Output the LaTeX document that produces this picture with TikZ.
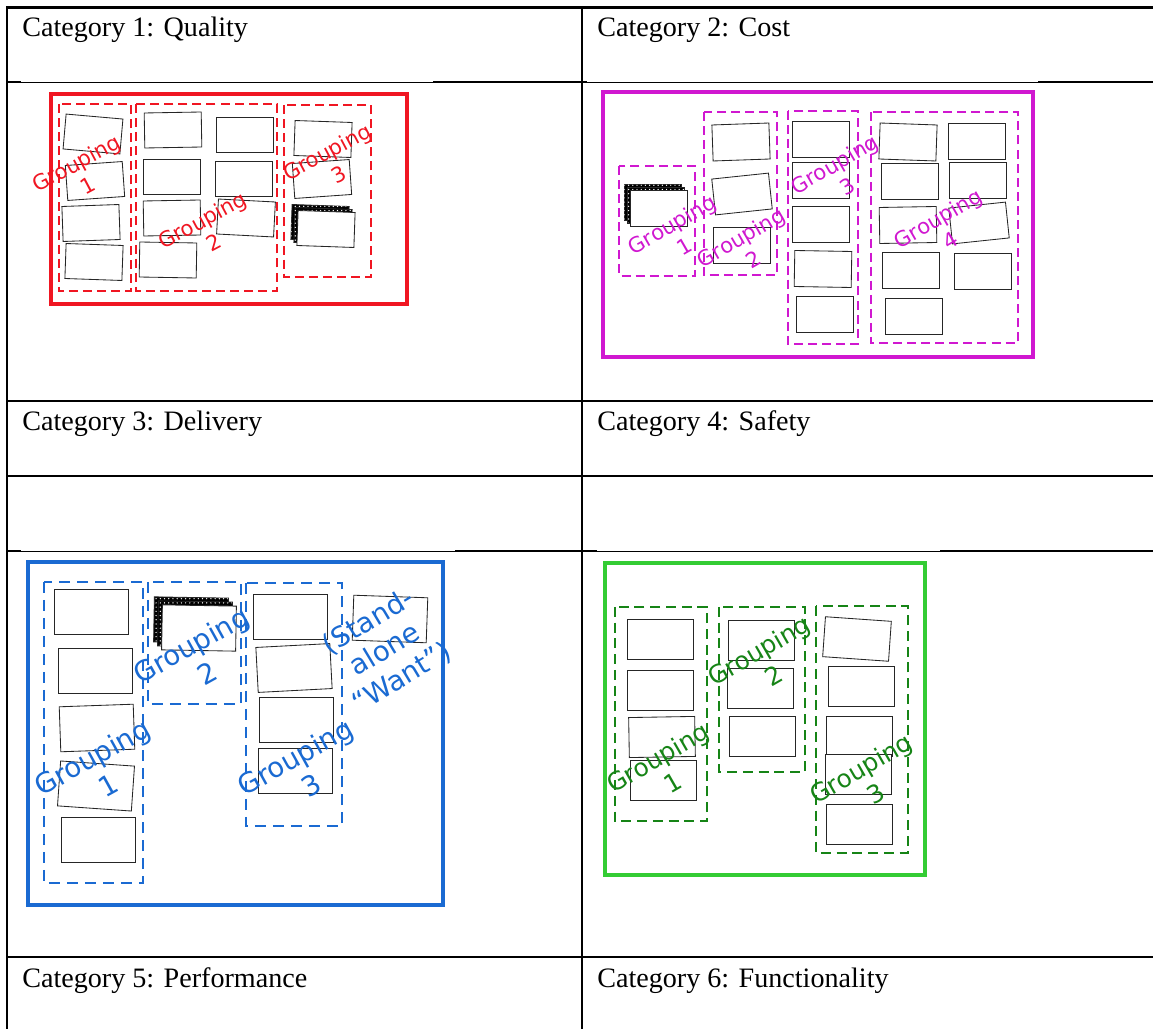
\documentclass[tikz,border=0pt]{standalone}
\usepackage{fontspec}
\setmainfont{Liberation Serif}
\newfontfamily\groupfont{DejaVu Sans}
\usetikzlibrary{patterns}
\definecolor{qualred}{RGB}{240,22,34}
\definecolor{costmag}{RGB}{208,24,208}
\definecolor{perfblue}{RGB}{26,106,210}
\definecolor{funclime}{RGB}{52,204,52}
\definecolor{funcgreen}{RGB}{22,132,22}
\newcommand{\px}{0.025cm}
% pile of cards: #1 name, #2 centre, #3 card style, #4 step back
\newcommand{\tikzCardStack}[4]{
  \path (#2) ++(-2*#4,-2*#4) node[#3,stackcard] (#1c) {};
  \path (#2) ++(-#4,-#4) node[#3,stackcard] (#1b) {};
  \node[#3] (#1) at (#2) {};
}

\begin{document}
\begin{tikzpicture}[x=\px, y=-\px,
  tbl/.style={line width=1.8pt},
  tblthin/.style={line width=0.6pt},
  cat/.style={anchor=base west, inner sep=0pt, font=\fontsize{20}{24}\selectfont},
  card/.style={draw=black!85, line width=0.6pt, fill=white, inner sep=0pt},
  stackcard/.style={fill=black, postaction={pattern=dots, pattern color=white}},
  qcard/.style={card, minimum width=1.425cm, minimum height=0.875cm},
  ccard/.style={card, minimum width=1.425cm, minimum height=0.9cm},
  pcard/.style={card, minimum width=1.85cm, minimum height=1.125cm},
  fcard/.style={card, minimum width=1.65cm, minimum height=1.0cm},
  glabel/.style={align=center, inner sep=0pt},
  qualbox/.style={draw=qualred, line width=2.4pt},
  qualgroup/.style={draw=qualred, line width=1.4pt, dash pattern=on 6.4pt off 3.6pt},
  qualtext/.style={glabel, text=qualred, font=\groupfont\fontsize{15}{18}\selectfont},
  costbox/.style={draw=costmag, line width=2.2pt},
  costgroup/.style={draw=costmag, line width=1.4pt, dash pattern=on 6.4pt off 3.6pt},
  costtext/.style={glabel, text=costmag, font=\groupfont\fontsize{15}{18}\selectfont},
  perfbox/.style={draw=perfblue, line width=2.8pt},
  perfgroup/.style={draw=perfblue, line width=1.7pt, dash pattern=on 7.8pt off 5pt},
  perftext/.style={glabel, text=perfblue, font=\groupfont\fontsize{19.6}{23.2}\selectfont},
  funcbox/.style={draw=funclime, line width=2.5pt},
  funcgroup/.style={draw=funcgreen, line width=1.5pt, dash pattern=on 7pt off 4.2pt},
  functext/.style={glabel, text=funcgreen, font=\groupfont\fontsize{17.6}{21}\selectfont}]

  \useasboundingbox (0,0) rectangle (1153,1029);

  % table rules
  \draw[tbl] (7,7.5) -- (7,1029);
  \draw[tbl] (582,7.5) -- (582,1029);
  \draw[tbl] (6,7.5) -- (1153,7.5);
  \draw[tbl] (7,82) -- (21,82) (433,82) -- (587,82) (1038,82) -- (1153,82);
  \draw[tblthin] (21,82) -- (433,82) (587,82) -- (1038,82);
  \draw[tbl] (7,401) -- (1153,401);
  \draw[tbl] (7,476) -- (1153,476);
  \draw[tbl] (7,551) -- (21,551) (455,551) -- (597,551) (940,551) -- (1153,551);
  \draw[tblthin] (21,551) -- (455,551) (597,551) -- (940,551);
  \draw[tbl] (7,957) -- (1153,957);

  % headings
  \node[cat] (cat1) at (22,37) {Category 1: Quality};
  \node[cat] (cat2) at (597,37) {Category 2: Cost};
  \node[cat] (cat3) at (22,431) {Category 3: Delivery};
  \node[cat] (cat4) at (597,431) {Category 4: Safety};
  \node[cat] (cat5) at (22,987) {Category 5: Performance};
  \node[cat] (cat6) at (597,987) {Category 6: Functionality};

  % quality
  \draw[qualbox] (51,94) rectangle (407,304);
  \draw[qualgroup] (59,104) rectangle (131,291);
  \draw[qualgroup] (136,104) rectangle (277,291);
  \draw[qualgroup] (284,105) rectangle (371,277);
  \node[qcard, rotate=-5] (q1) at (93,134) {};
  \node[qcard, rotate=4] (q2) at (95,181) {};
  \node[qcard, rotate=2] (q3) at (91,223) {};
  \node[qcard, rotate=-2] (q4) at (94,262) {};
  \node[qcard, rotate=1] (q5) at (173,130) {};
  \node[qcard] (q6) at (245,135) {};
  \node[qcard] (q7) at (172,177) {};
  \node[qcard] (q8) at (244,179) {};
  \node[qcard, rotate=1] (q9) at (172,218) {};
  \node[qcard, rotate=-3] (q10) at (246,218) {};
  \node[qcard, rotate=-1] (q11) at (168,260) {};
  \node[qcard, rotate=-2] (q12) at (323,139) {};
  \node[qcard, rotate=4] (q13) at (322,179) {};
  \tikzCardStack{q14}{326,229}{qcard,rotate=-2}{3}
  \node[qualtext, rotate=28] (qlab1) at (82,174) {Grouping\\1};
  \node[qualtext, rotate=28] (qlab2) at (208,231) {Grouping\\2};
  \node[qualtext, rotate=28] (qlab3) at (333,163) {Grouping\\3};

  % cost
  \draw[costbox] (603,92) rectangle (1033,357);
  \draw[costgroup] (619,166) rectangle (695,276);
  \draw[costgroup] (704,112) rectangle (777,275);
  \draw[costgroup] (788,111) rectangle (858,344);
  \draw[costgroup] (871,112) rectangle (1018,343);
  \tikzCardStack{c1}{659,208}{ccard}{3}
  \node[ccard, rotate=2] (c2) at (741,142) {};
  \node[ccard, rotate=6] (c3) at (742,194) {};
  \node[ccard] (c4) at (742,245) {};
  \node[ccard] (c5) at (821,139) {};
  \node[ccard] (c6) at (821,180) {};
  \node[ccard] (c7) at (821,224) {};
  \node[ccard, rotate=-1] (c8) at (823,269) {};
  \node[ccard] (c9) at (825,314) {};
  \node[ccard, rotate=-2] (c10) at (908,142) {};
  \node[ccard] (c11) at (977,141) {};
  \node[ccard] (c12) at (910,181) {};
  \node[ccard] (c13) at (978,180) {};
  \node[ccard, rotate=1] (c14) at (908,225) {};
  \node[ccard, rotate=6] (c15) at (979,223) {};
  \node[ccard] (c16) at (911,270) {};
  \node[ccard] (c17) at (983,271) {};
  \node[ccard] (c18) at (914,316) {};
  \node[costtext, rotate=30] (clab1) at (678,235) {Grouping\\1};
  \node[costtext, rotate=30] (clab2) at (747,248) {Grouping\\2};
  \node[costtext, rotate=30] (clab3) at (841,175) {Grouping\\3};
  \node[costtext, rotate=30] (clab4) at (944,229) {Grouping\\4};

  % performance
  \draw[perfbox] (28,562) rectangle (443,905);
  \draw[perfgroup] (44,582) rectangle (143,883);
  \draw[perfgroup] (148,582) rectangle (241,704);
  \draw[perfgroup] (246,583) rectangle (342,826);
  \node[pcard] (p1) at (91,612) {};
  \node[pcard] (p2) at (95,671) {};
  \node[pcard, rotate=2] (p3) at (97,728) {};
  \node[pcard, rotate=-4] (p4) at (96,786) {};
  \node[pcard] (p5) at (98,840) {};
  \tikzCardStack{p6}{199,628}{pcard,rotate=-1}{4}
  \node[pcard] (p7) at (290,617) {};
  \node[pcard, rotate=3] (p8) at (294,668) {};
  \node[pcard] (p9) at (296,720) {};
  \node[pcard] (p10) at (295,771) {};
  \node[pcard, rotate=-2] (p11) at (390,619) {};
  \node[perftext, rotate=29] (plab1) at (100,771) {Grouping\\1};
  \node[perftext, rotate=29] (plab2) at (199,659) {Grouping\\2};
  \node[perftext, rotate=29] (plab3) at (303,771) {Grouping\\3};
  \node[perftext, rotate=31] (plab4) at (385,650) {(Stand-\\alone\\“Want”)};

  % functionality
  \draw[funcbox] (605,563) rectangle (925,875);
  \draw[funcgroup] (615,607) rectangle (707,821);
  \draw[funcgroup] (719,607) rectangle (805,772);
  \draw[funcgroup] (816,606) rectangle (908,853);
  \node[fcard] (f1) at (660,639) {};
  \node[fcard] (f2) at (660,690) {};
  \node[fcard, rotate=1] (f3) at (662,737) {};
  \node[fcard] (f4) at (663,780) {};
  \node[fcard] (f5) at (761,640) {};
  \node[fcard] (f6) at (760,688) {};
  \node[fcard] (f7) at (762,736) {};
  \node[fcard, rotate=-4] (f8) at (857,639) {};
  \node[fcard] (f9) at (861,686) {};
  \node[fcard] (f10) at (859,736) {};
  \node[fcard] (f11) at (858,774) {};
  \node[fcard] (f12) at (859,824) {};
  \node[functext, rotate=30] (flab1) at (665,770) {Grouping\\1};
  \node[functext, rotate=30] (flab2) at (766,663) {Grouping\\2};
  \node[functext, rotate=30] (flab3) at (868,781) {Grouping\\3};
\end{tikzpicture}
\end{document}
